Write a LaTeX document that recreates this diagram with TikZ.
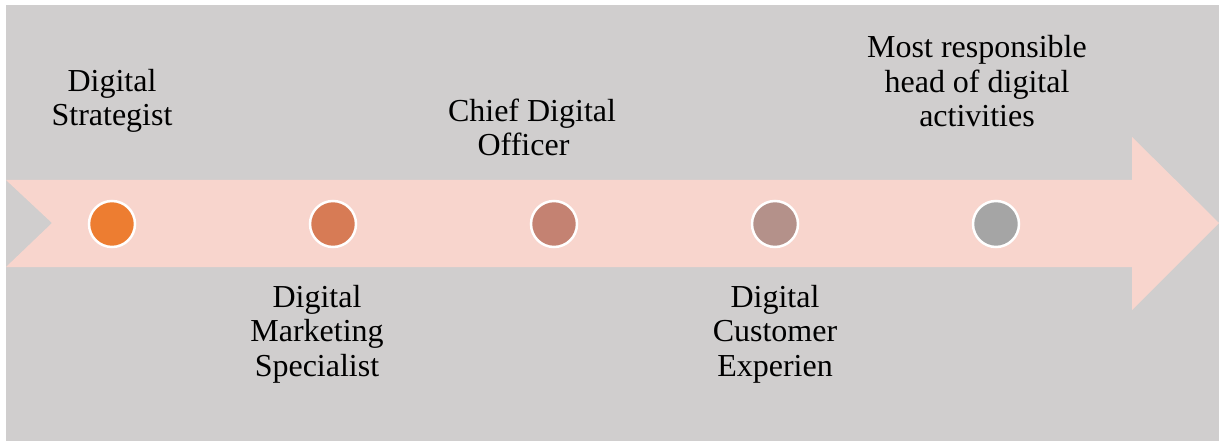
\documentclass[tikz,border=0pt]{standalone}
\usepackage{fontspec}
\setmainfont{Liberation Serif}
\usetikzlibrary{positioning}
\usepackage{xcolor}

\definecolor{bggray}{HTML}{D0CECE}
\definecolor{bandpink}{HTML}{F8D5CD}
\definecolor{dotA}{HTML}{ED7D31}
\definecolor{dotB}{HTML}{D77B55}
\definecolor{dotC}{HTML}{C48272}
\definecolor{dotD}{HTML}{B4918A}
\definecolor{dotE}{HTML}{A5A5A5}

\begin{document}
\begin{tikzpicture}[x=1pt, y=-1pt, 
dot/.style={circle, 
draw=white, 
line width=2.5pt, 
minimum size=46pt, 
inner sep=0pt}, 
role/.style={align=center, 
inner sep=0pt, 
anchor=base, 
font=\fontsize{32}{34.5}\selectfont} 
]

\useasboundingbox (0,0) rectangle (1219,441);
\fill[white] (0,0) rectangle (1219,441);
\fill[bggray] (6,5) rectangle (1219,441);

% timeline arrow
\fill[bandpink] (6,180) -- (1132,180) -- (1132,137) -- (1219,223) -- (1132,310) -- (1132,267) 
-- (6,267) -- (52,223) -- cycle;

\node[dot, fill=dotA] (dot1) at (112,224) {};
\node[dot, fill=dotB] (dot2) at (333,224) {};
\node[dot, fill=dotC] (dot3) at (554,224) {};
\node[dot, fill=dotD] (dot4) at (775,224) {};
\node[dot, fill=dotE] (dot5) at (996,224) {};

% base anchor sits on the last line
\node[role] (role1) at (112,126) {Digital\\Strategist};
\node[role] (role2) at (317,376) {Digital\\Marketing\\Specialist};
\node[role] (role3) at (532,156) {Chief Digital\\Officer\hspace*{17pt}};
\node[role] (role4) at (775,376) {Digital\\Customer\\Experien};
\node[role] (role5) at (977,127) {Most responsible\\head of digital\\activities};

\end{tikzpicture}
\end{document}
